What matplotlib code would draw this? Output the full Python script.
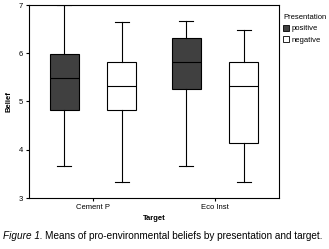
import matplotlib
matplotlib.use("Agg")
import matplotlib.pyplot as plt
from matplotlib.patches import Patch

plt.rcParams['font.family'] = ['Liberation Sans Narrow', 'Liberation Sans', 'DejaVu Sans']

targets = ["Cement P", "Eco Inst"]
presentations = ["positive", "negative"]
colors = {"positive": "#404040", "negative": "#ffffff"}

# stats per presentation, per target
whislo = {"positive": [3.67, 3.67], "negative": [3.33, 3.33]}
q1 = {"positive": [4.82, 5.25], "negative": [4.82, 4.15]}
med = {"positive": [5.48, 5.81], "negative": [5.32, 5.32]}
q3 = {"positive": [5.98, 6.31], "negative": [5.81, 5.81]}
whishi = {"positive": [7.0, 6.66], "negative": [6.65, 6.48]}

fig = plt.figure(figsize=(3.29, 2.49), dpi=100)
ax = fig.add_axes([29/329, 1-198/249, 250/329, 193/249])

offset = 0.236
width = 0.236
for i, p in enumerate(presentations):
    stats = []
    for j in range(len(targets)):
        stats.append(dict(whislo=whislo[p][j], q1=q1[p][j], med=med[p][j],
                          q3=q3[p][j], whishi=whishi[p][j], fliers=[]))
    pos = [j + (-offset if i == 0 else offset) for j in range(len(targets))]
    ax.bxp(stats, positions=pos, widths=width, patch_artist=True, showfliers=False,
           boxprops=dict(facecolor=colors[p], edgecolor='black', linewidth=0.8),
           medianprops=dict(color='black', linewidth=0.8),
           whiskerprops=dict(color='black', linewidth=0.8),
           capprops=dict(color='black', linewidth=0.8),
           capwidths=width * 0.5)

ax.set_xlim(-0.525, 1.525)
ax.set_ylim(3, 7)
ax.set_yticks([3, 4, 5, 6, 7])
ax.set_xticks(range(len(targets)))
ax.set_xticklabels(targets)
ax.tick_params(labelsize=5.5, length=2.5, width=0.8, pad=2)
for s in ax.spines.values():
    s.set_linewidth(0.8)
ax.set_ylabel("Belief", fontsize=5.5, fontweight='bold', labelpad=4)
ax.set_xlabel("Target", fontsize=5.5, fontweight='bold', labelpad=3)

handles = [Patch(facecolor=colors[p], edgecolor='black', linewidth=0.6, label=p) for p in presentations]
leg = fig.legend(handles=handles, title="Presentation", loc='upper left',
                 bbox_to_anchor=(283/329, 1-14/249), frameon=False, fontsize=5.5,
                 title_fontsize=5.5, handlelength=0.8, handleheight=0.8,
                 handletextpad=0.3, labelspacing=0.5, borderaxespad=0, borderpad=0)
leg._legend_box.align = "left"

cap_fs = 7.2
t1 = fig.text(3/329, 1-236/249, "Figure 1.", fontsize=cap_fs, style='italic', va='center', ha='left')
fig.canvas.draw()
bb = t1.get_window_extent()
fig.text((bb.x1 + 2) / 329, 1-236/249, "Means of pro-environmental beliefs by presentation and target.",
         fontsize=cap_fs, va='center', ha='left')

fig.savefig("out.png", dpi=100)
